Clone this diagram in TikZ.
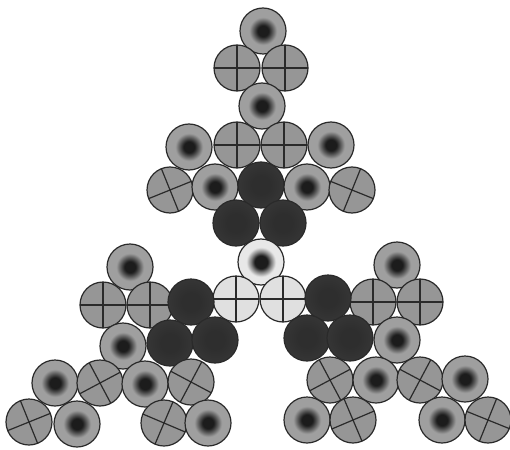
\documentclass[tikz,border=0pt]{standalone}
\usepackage{tikz}
\definecolor{olc}{HTML}{2A2A2A}
\definecolor{dotcore}{HTML}{1C1C1C}
\definecolor{dothalo}{HTML}{555555}
\definecolor{dotmid}{HTML}{9F9F9F}
\definecolor{dotring}{HTML}{8E8E8E}
\definecolor{crossfill}{HTML}{969696}
\definecolor{darkc}{HTML}{2E2E2E}
\definecolor{darkm}{HTML}{373737}
\definecolor{darke}{HTML}{444444}
\definecolor{lightfill}{HTML}{E0E0E0}
\definecolor{lightmid}{HTML}{E8E8E8}
\definecolor{lightedge}{HTML}{DADADA}
\pgfdeclareradialshading{dotsh}{\pgfpoint{0bp}{0bp}}{color(0bp)=(dotcore); color(6bp)=(dotcore); color(10bp)=(dothalo); color(15bp)=(dotmid); color(30bp)=(dotmid); color(44bp)=(dotring); color(50bp)=(dotring); color(75bp)=(dotring)}
\pgfdeclareradialshading{darksh}{\pgfpoint{0bp}{0bp}}{color(0bp)=(darkc); color(10bp)=(darkc); color(28bp)=(darkm); color(50bp)=(darke); color(75bp)=(darke)}
\pgfdeclareradialshading{lightsh}{\pgfpoint{0bp}{0bp}}{color(0bp)=(dotcore); color(7bp)=(dotcore); color(11bp)=(gray); color(16bp)=(lightmid); color(40bp)=(lightmid); color(50bp)=(lightedge); color(75bp)=(lightedge)}
\tikzset{
  disc/.style={circle, draw=olc, line width=1.2pt, minimum size=46pt, inner sep=0pt, outer sep=0pt},
  dotdisc/.style={disc, shading=dotsh},
  crossdisc/.style={disc, fill=crossfill},
  darkdisc/.style={disc, shading=darksh},
  lightdot/.style={disc, shading=lightsh},
  lightcross/.style={disc, fill=lightfill},
  crossline/.style={draw=olc, line width=1.2pt}
}
\newcommand\mkcross[4]{%
  \node[#4] (#1) at (#2) {};
  \pgfmathtruncatemacro\angA{mod(#3+360,360)}%
  \pgfmathtruncatemacro\angB{mod(#3+540,360)}%
  \pgfmathtruncatemacro\angC{mod(#3+450,360)}%
  \pgfmathtruncatemacro\angD{mod(#3+630,360)}%
  \draw[crossline] (#1.\angA) -- (#1.\angB) (#1.\angC) -- (#1.\angD);}
\begin{document}
\begin{tikzpicture}[x=1pt,y=-1pt]
\useasboundingbox[fill=white] (0,0) rectangle (510,449);
% ---- top arm
\node[dotdisc] (t1) at (263,31) {};
\mkcross{t2}{237,68}{0}{crossdisc}
\mkcross{t3}{285,68}{0}{crossdisc}
\node[dotdisc] (t4) at (262,106) {};
\mkcross{t5}{237,145}{0}{crossdisc}
\mkcross{t6}{284,145}{0}{crossdisc}
\node[dotdisc] (t7) at (189,147) {};
\node[dotdisc] (t8) at (331,145) {};
\mkcross{t9}{170,190}{22}{crossdisc}
\node[dotdisc] (t10) at (215,187) {};
\node[darkdisc] (t11) at (261,185) {};
\node[dotdisc] (t12) at (307,187) {};
\mkcross{t13}{352,190}{-22}{crossdisc}
\node[darkdisc] (t14) at (236,223) {};
\node[darkdisc] (t15) at (283,223) {};
% ---- centre
\node[lightdot] (c1) at (261,262) {};
\mkcross{c2}{236,299}{0}{lightcross}
\mkcross{c3}{283,299}{0}{lightcross}
% ---- left arm
\node[dotdisc] (l1) at (130,267) {};
\mkcross{l2}{103,305}{0}{crossdisc}
\mkcross{l3}{150,305}{0}{crossdisc}
\node[darkdisc] (l4) at (191,302) {};
\node[dotdisc] (l5) at (123,346) {};
\node[darkdisc] (l6) at (170,343) {};
\node[darkdisc] (l7) at (215,340) {};
\node[dotdisc] (l8) at (55,383) {};
\mkcross{l9}{100,383}{28}{crossdisc}
\node[dotdisc] (l10) at (145,384) {};
\mkcross{l11}{191,382}{-28}{crossdisc}
\mkcross{l12}{29,422}{22}{crossdisc}
\node[dotdisc] (l13) at (77,424) {};
\mkcross{l14}{164,423}{-23}{crossdisc}
\node[dotdisc] (l15) at (208,423) {};
% ---- right arm
\node[dotdisc] (r1) at (397,265) {};
\mkcross{r2}{373,302}{0}{crossdisc}
\mkcross{r3}{420,302}{0}{crossdisc}
\node[darkdisc] (r4) at (328,298) {};
\node[darkdisc] (r5) at (307,338) {};
\node[darkdisc] (r6) at (350,338) {};
\node[dotdisc] (r7) at (397,340) {};
\mkcross{r8}{330,380}{28}{crossdisc}
\node[dotdisc] (r9) at (376,380) {};
\mkcross{r10}{420,380}{-28}{crossdisc}
\node[dotdisc] (r11) at (465,379) {};
\node[dotdisc] (r12) at (307,420) {};
\mkcross{r13}{353,420}{23}{crossdisc}
\node[dotdisc] (r14) at (442,420) {};
\mkcross{r15}{488,420}{-22}{crossdisc}
\end{tikzpicture}
\end{document}
